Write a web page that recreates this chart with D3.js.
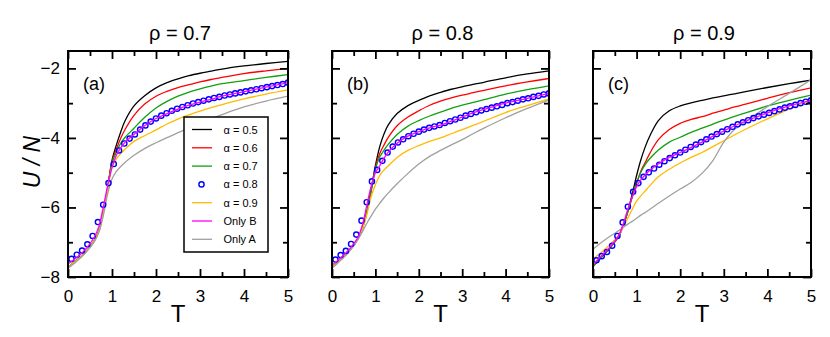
<!DOCTYPE html>
<html>
<head>
<meta charset="utf-8">
<script src="https://cdn.jsdelivr.net/npm/d3@7"></script>
<style>
  body { margin: 0; background: #fff; }
  svg { font-family: "Liberation Sans", Arial, sans-serif; }
</style>
</head>
<body>
<div id="drawing"></div>
<script>
// T grid of the lines and of the circles (alpha = 0.8)
const tLine = [0, 0.2, 0.4, 0.6, 0.7, 0.8, 0.9, 1.0, 1.1, 1.2, 1.3, 1.5, 1.75, 2.0, 2.25, 2.5, 2.75, 3.0, 3.25, 3.5, 4.0, 4.5, 5.0];
const tCircle = [0.08, 0.2, 0.32, 0.44, 0.56, 0.68, 0.8, 0.92, 1.04, 1.16, 1.28, 1.4, 1.52, 1.64, 1.76, 1.88, 2.0, 2.12, 2.24, 2.36, 2.48,
  2.6, 2.72, 2.84, 2.96, 3.08, 3.2, 3.32, 3.44, 3.56, 3.68, 3.8, 3.92, 4.04, 4.16, 4.28, 4.4, 4.52, 4.64, 4.76, 4.88, 5.0];

const rhoLabels = ["0.7", "0.8", "0.9"];
const panelTags = ["(a)", "(b)", "(c)"];
const seriesNames = ["α = 0.5", "α = 0.6", "α = 0.7", "α = 0.8", "α = 0.9", "Only B", "Only A"];
const xTicks = [0, 1, 2, 3, 4, 5];
const yTicks = [-8, -6, -4, -2];

// rho = 0.7
const r07_a05 = [-7.72, -7.52, -7.28, -6.95, -6.68, -6.15, -5.45, -4.65, -4.2, -3.82, -3.5, -3.08, -2.78, -2.56, -2.41, -2.3, -2.21, -2.14, -2.08, -2.02, -1.93, -1.86, -1.8];
const r07_a06 = [-7.72, -7.52, -7.28, -6.95, -6.68, -6.15, -5.45, -4.68, -4.32, -4.0, -3.75, -3.35, -3.02, -2.8, -2.66, -2.55, -2.47, -2.39, -2.32, -2.26, -2.15, -2.07, -2.0];
const r07_a07 = [-7.72, -7.52, -7.28, -6.95, -6.68, -6.15, -5.45, -4.72, -4.4, -4.15, -3.98, -3.72, -3.4, -3.14, -2.95, -2.8, -2.68, -2.59, -2.51, -2.44, -2.35, -2.26, -2.18];
const r07_a08 = [-7.48, -7.36, -7.24, -7.06, -6.82, -6.42, -5.92, -5.3, -4.75, -4.36, -4.16, -4.02, -3.9, -3.76, -3.64, -3.53, -3.44, -3.36, -3.29, -3.22, -3.16,
  -3.11, -3.06, -3.01, -2.97, -2.93, -2.89, -2.85, -2.82, -2.78, -2.75, -2.72, -2.69, -2.66, -2.63, -2.6, -2.57, -2.54, -2.51, -2.48, -2.45, -2.41];
const r07_a09 = [-7.72, -7.52, -7.28, -6.95, -6.68, -6.15, -5.5, -4.85, -4.6, -4.45, -4.32, -4.1, -3.93, -3.77, -3.6, -3.46, -3.34, -3.23, -3.13, -3.04, -2.88, -2.74, -2.62];
const r07_onlyB = [-7.62, -7.44, -7.2, -6.85, -6.55, -6.0, -5.38, -4.85, -4.5, -4.28, -4.12, -3.9, -3.64, -3.44, -3.3, -3.17, -3.06, -2.97, -2.89, -2.8, -2.67, -2.54, -2.41];
const r07_onlyA = [-7.75, -7.55, -7.3, -6.98, -6.72, -6.25, -5.62, -5.18, -4.96, -4.82, -4.7, -4.5, -4.3, -4.14, -3.99, -3.85, -3.71, -3.58, -3.45, -3.33, -3.11, -2.94, -2.8];

// rho = 0.8
const r08_a05 = [-7.72, -7.5, -7.25, -6.9, -6.6, -6.15, -5.5, -4.8, -4.25, -3.88, -3.62, -3.3, -3.07, -2.92, -2.79, -2.69, -2.6, -2.53, -2.46, -2.4, -2.27, -2.16, -2.07];
const r08_a06 = [-7.72, -7.5, -7.25, -6.9, -6.6, -6.15, -5.52, -4.85, -4.45, -4.2, -3.98, -3.65, -3.4, -3.22, -3.06, -2.94, -2.85, -2.77, -2.7, -2.63, -2.5, -2.39, -2.29];
const r08_a07 = [-7.72, -7.5, -7.25, -6.9, -6.6, -6.15, -5.55, -4.9, -4.55, -4.35, -4.18, -3.9, -3.66, -3.5, -3.37, -3.26, -3.15, -3.06, -2.98, -2.9, -2.74, -2.61, -2.5];
const r08_a08 = [-7.5, -7.37, -7.25, -7.05, -6.78, -6.38, -5.85, -5.25, -4.92, -4.66, -4.42, -4.25, -4.13, -4.04, -3.95, -3.88, -3.82, -3.76, -3.71, -3.67, -3.63,
  -3.57, -3.52, -3.47, -3.42, -3.36, -3.31, -3.26, -3.21, -3.17, -3.13, -3.09, -3.05, -3.0, -2.97, -2.93, -2.89, -2.86, -2.82, -2.79, -2.75, -2.72];
const r08_a09 = [-7.72, -7.5, -7.25, -6.9, -6.62, -6.22, -5.7, -5.35, -5.08, -4.92, -4.8, -4.56, -4.36, -4.22, -4.1, -4.0, -3.88, -3.76, -3.64, -3.52, -3.27, -3.07, -2.88];
const r08_onlyB = [-7.66, -7.45, -7.2, -6.85, -6.5, -5.95, -5.4, -5.0, -4.8, -4.58, -4.4, -4.15, -3.95, -3.82, -3.71, -3.63, -3.52, -3.4, -3.28, -3.18, -3.0, -2.86, -2.72];
const r08_onlyA = [-7.75, -7.52, -7.26, -6.92, -6.7, -6.46, -6.25, -6.05, -5.88, -5.72, -5.58, -5.32, -5.02, -4.75, -4.53, -4.36, -4.2, -4.05, -3.88, -3.72, -3.42, -3.15, -2.91];

// rho = 0.9
const r09_a05 = [-7.7, -7.42, -7.15, -6.8, -6.5, -6.1, -5.62, -5.08, -4.62, -4.25, -3.95, -3.5, -3.22, -3.08, -2.99, -2.92, -2.85, -2.79, -2.73, -2.67, -2.55, -2.44, -2.34];
const r09_a06 = [-7.7, -7.42, -7.15, -6.8, -6.5, -6.12, -5.68, -5.3, -4.95, -4.7, -4.45, -4.05, -3.76, -3.58, -3.47, -3.39, -3.29, -3.2, -3.11, -3.03, -2.86, -2.7, -2.56];
const r09_a07 = [-7.7, -7.42, -7.15, -6.8, -6.5, -6.12, -5.7, -5.3, -4.98, -4.76, -4.6, -4.35, -4.12, -3.98, -3.84, -3.72, -3.6, -3.49, -3.38, -3.28, -3.08, -2.92, -2.77];
const r09_a08 = [-7.52, -7.4, -7.28, -7.1, -6.82, -6.43, -5.98, -5.55, -5.3, -5.12, -4.99, -4.88, -4.77, -4.67, -4.58, -4.5, -4.42, -4.34, -4.26, -4.19, -4.12,
  -4.04, -3.96, -3.89, -3.82, -3.75, -3.68, -3.61, -3.55, -3.49, -3.43, -3.38, -3.33, -3.28, -3.23, -3.18, -3.13, -3.09, -3.05, -3.0, -2.96, -2.92];
const r09_a09 = [-7.48, -7.28, -7.05, -6.78, -6.55, -6.3, -6.05, -5.82, -5.66, -5.52, -5.38, -5.12, -4.9, -4.72, -4.56, -4.42, -4.25, -4.08, -3.91, -3.75, -3.45, -3.17, -2.9];
const r09_onlyB = [-7.64, -7.38, -7.12, -6.78, -6.45, -6.05, -5.7, -5.4, -5.2, -5.06, -4.94, -4.75, -4.56, -4.42, -4.27, -4.12, -3.95, -3.8, -3.65, -3.52, -3.28, -3.08, -2.92];
const r09_onlyA = [-7.2, -7.0, -6.82, -6.66, -6.57, -6.48, -6.4, -6.31, -6.22, -6.14, -6.06, -5.88, -5.67, -5.47, -5.28, -5.02, -4.65, -4.12, -3.75, -3.53, -3.1, -2.72, -2.33];

const width = 830;
const height = 337;
const panelBox = [
  {x0: 68, x1: 288},
  {x0: 332, x1: 549},
  {x0: 593, x1: 811}
];
const plotTop = 51;
const plotBottom = 277;

const colors = ["#000000", "#ff0000", "#10a010", "#0000ff", "#ffbb00", "#ff00ff", "#a0a0a0"];

const panels = [
  {lines: [r07_a05, r07_a06, r07_a07, r07_a09, r07_onlyA, r07_onlyB], circles: r07_a08},
  {lines: [r08_a05, r08_a06, r08_a07, r08_a09, r08_onlyA, r08_onlyB], circles: r08_a08},
  {lines: [r09_a05, r09_a06, r09_a07, r09_a09, r09_onlyA, r09_onlyB], circles: r09_a08}
];
// color index of each line, in drawing order
const lineColor = [0, 1, 2, 4, 6, 5];

const svg = d3.select("#drawing").append("svg")
  .attr("width", width)
  .attr("height", height);

const y = d3.scaleLinear().domain([-8, -1.5]).range([plotBottom, plotTop]);

panels.forEach((p, i) => {
  const box = panelBox[i];
  const x = d3.scaleLinear().domain([0, 5]).range([box.x0, box.x1]);
  const g = svg.append("g");

  g.append("defs").append("clipPath").attr("id", "clip" + i)
    .append("rect")
      .attr("x", box.x0).attr("y", plotTop)
      .attr("width", box.x1 - box.x0).attr("height", plotBottom - plotTop);

  const plot = g.append("g").attr("clip-path", `url(#clip${i})`);

  const line = d3.line()
    .x((d) => x(d[0]))
    .y((d) => y(d[1]))
    .curve(d3.curveCatmullRom.alpha(0.5));

  // lines except Only B
  p.lines.slice(0, 5).forEach((vals, k) => {
    plot.append("path")
      .datum(tLine.map((t, j) => [t, vals[j]]))
      .attr("d", line)
      .style("fill", "none")
      .style("stroke", colors[lineColor[k]])
      .style("stroke-width", 1.3);
  });

  // alpha = 0.8 circles
  plot.selectAll(".pt")
    .data(tCircle.map((t, j) => [t, p.circles[j]]))
    .enter()
    .append("circle")
      .attr("class", "pt")
      .attr("cx", (d) => x(d[0]))
      .attr("cy", (d) => y(d[1]))
      .attr("r", 2.6)
      .style("fill", "none")
      .style("stroke", colors[3])
      .style("stroke-width", 1.4);

  // Only B on top
  plot.append("path")
    .datum(tLine.map((t, j) => [t, p.lines[5][j]]))
    .attr("d", line)
    .style("fill", "none")
    .style("stroke", colors[5])
    .style("stroke-width", 1.3);

  // axes, ticks pointing inwards
  const bottom = plotBottom, top = plotTop;
  const xMinor = d3.range(0.5, 5, 1);
  const yMinor = [-7, -5, -3];

  const axes = [
    g.append("g").attr("transform", `translate(0,${bottom})`)
      .call(d3.axisBottom(x).tickValues(xTicks).tickSize(-8).tickPadding(13).tickFormat(d3.format("d"))),
    g.append("g").attr("transform", `translate(0,${bottom})`)
      .call(d3.axisBottom(x).tickValues(xMinor).tickSize(-5).tickFormat("")),
    g.append("g").attr("transform", `translate(0,${top})`)
      .call(d3.axisTop(x).tickValues(xTicks).tickSize(-8).tickFormat("")),
    g.append("g").attr("transform", `translate(0,${top})`)
      .call(d3.axisTop(x).tickValues(xMinor).tickSize(-5).tickFormat("")),
    g.append("g").attr("transform", `translate(${box.x0},0)`)
      .call(d3.axisLeft(y).tickValues(yTicks).tickSize(-8).tickPadding(8)
        .tickFormat(i === 0 ? d3.format("d") : "")),
    g.append("g").attr("transform", `translate(${box.x0},0)`)
      .call(d3.axisLeft(y).tickValues(yMinor).tickSize(-5).tickFormat("")),
    g.append("g").attr("transform", `translate(${box.x1},0)`)
      .call(d3.axisRight(y).tickValues(yTicks).tickSize(-8).tickFormat("")),
    g.append("g").attr("transform", `translate(${box.x1},0)`)
      .call(d3.axisRight(y).tickValues(yMinor).tickSize(-5).tickFormat(""))
  ];
  axes.forEach((a) => {
    a.select(".domain").remove();
    a.selectAll(".tick line").style("stroke", "#000").style("stroke-width", 1.8);
    a.selectAll(".tick text")
      .style("font-size", "17px")
      .style("fill", "#000")
      .style("font-family", "'Liberation Sans', Arial, sans-serif");
  });

  // frame
  g.append("rect")
    .attr("x", box.x0).attr("y", top)
    .attr("width", box.x1 - box.x0).attr("height", bottom - top)
    .style("fill", "none")
    .style("stroke", "#000")
    .style("stroke-width", 2);

  // panel title and tag
  g.append("text")
    .attr("x", (box.x0 + box.x1) / 2 + 2)
    .attr("y", 40)
    .attr("text-anchor", "middle")
    .style("font-size", "20px")
    .text("ρ = " + rhoLabels[i]);

  g.append("text")
    .attr("x", box.x0 + 15)
    .attr("y", 90)
    .style("font-size", "18px")
    .text(panelTags[i]);

  // x axis title
  g.append("text")
    .attr("x", (box.x0 + box.x1) / 2)
    .attr("y", 322)
    .attr("text-anchor", "middle")
    .style("font-size", "24px")
    .text("T");
});

// y axis title
svg.append("text")
  .attr("transform", "translate(40,162) rotate(-90)")
  .attr("text-anchor", "middle")
  .style("font-size", "23px")
  .style("font-style", "italic")
  .text("U / N");

// legend in panel (a)
const legend = svg.append("g");
legend.append("rect")
  .attr("x", 184).attr("y", 117)
  .attr("width", 84).attr("height", 135)
  .style("fill", "#fff")
  .style("stroke", "#000")
  .style("stroke-width", 1.5);

seriesNames.forEach((name, k) => {
  const ly = 129.5 + k * 18.3;
  if (k === 3) {
    legend.append("circle")
      .attr("cx", 201.5).attr("cy", ly).attr("r", 2.6)
      .style("fill", "none")
      .style("stroke", colors[3])
      .style("stroke-width", 1.4);
  } else {
    legend.append("line")
      .attr("x1", 192).attr("x2", 212)
      .attr("y1", ly).attr("y2", ly)
      .style("stroke", colors[k])
      .style("stroke-width", 1.3);
  }
  legend.append("text")
    .attr("x", 223.5)
    .attr("y", ly + 4)
    .style("font-size", "11px")
    .text(name);
});
</script>
</body>
</html>
